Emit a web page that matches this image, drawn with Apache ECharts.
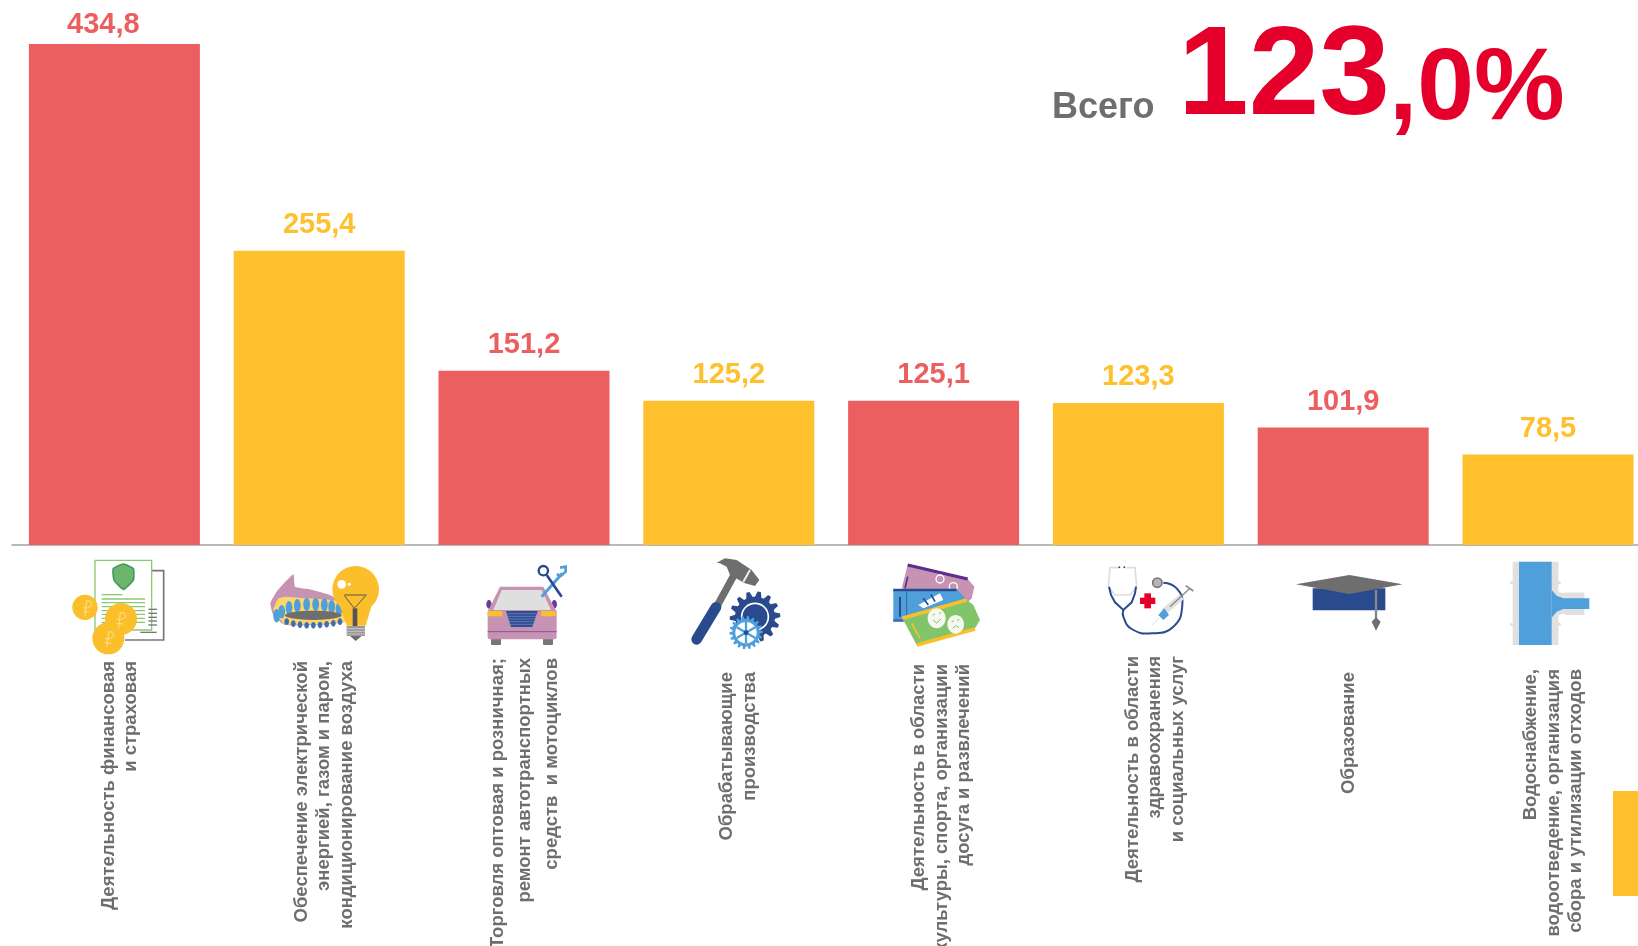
<!DOCTYPE html>
<html><head><meta charset="utf-8">
<style>html,body{margin:0;padding:0;background:#fff}#c{width:1638px;height:946px}</style>
<script src="https://cdn.jsdelivr.net/npm/echarts@6/dist/echarts.min.js"></script>
</head><body><div id="c"></div>
<script>
const categories = [
 'Деятельность финансовая\nи страховая',
 'Обеспечение электрической\nэнергией, газом и паром,\nкондиционирование воздуха',
 'Торговля оптовая и розничная;\nремонт автотранспортных\nсредств  и мотоциклов',
 'Обрабатывающие\nпроизводства',
 'Деятельность в области\nкультуры, спорта, организации\nдосуга и развлечений',
 'Деятельность в области\nздравоохранения\nи социальных услуг',
 'Образование',
 'Водоснабжение,\nводоотведение, организация\nсбора и утилизации отходов'
];
const values = [434.8, 255.4, 151.2, 125.2, 125.1, 123.3, 101.9, 78.5];
const CORAL = '#ec5f61', YELLOW = '#ffc02d';
const barColors = [CORAL, YELLOW, CORAL, YELLOW, CORAL, YELLOW, CORAL, YELLOW];
// label layout: where each rotated label starts below the axis, its sideways shift from the bar centre, its line spacing
const labelStart = [661, 661, 658, 672, 664, 656, 672, 669];
const labelShift = [4, 3, -3.5, 8, 6.5, 15, 4, 4];
const labelLeading = [22.5, 22.5, 27, 22.5, 22.5, 22.5, 22.5, 22.5];
const valueGap = [5, 11.5, 11.5, 11.5, 11.5, 11.5, 11.5, 11.5];
const valueNudge = [-11, 0, 0, 0, 0, 0, 0, 0];

const FONT = '"Liberation Sans", Arial, sans-serif';
const GREY = '#6e6e6e', RED = '#e4002b', NAVY = '#2a4a8e', SKY = '#4f9fdb', PINK = '#c793b2', GRN = '#82c46a', GOLD = '#fcbf2c', PURP = '#5a2d91';
const AXIS_Y = 545, LABEL_MARGIN = 100;

const rich = {};
categories.forEach((c, i) => {
  const base = {fontFamily: FONT, fontSize: 18.5, fontWeight: 'bold', color: GREY, align: 'right', verticalAlign: 'bottom',
    padding: [0, labelStart[i] - AXIS_Y - LABEL_MARGIN, 0, 0]};
  rich['a' + i] = Object.assign({}, base, {lineHeight: labelLeading[i] + 2 * labelShift[i]});
  rich['b' + i] = Object.assign({}, base, {lineHeight: labelLeading[i]});
});

// icon drawing helpers (decoration, in icon-local units)
const R = (x, y, w, h, fill, r) => ({type: 'rect', shape: {x, y, width: w, height: h, r: r || 0}, style: {fill}});
const RS = (x, y, w, h, fill, stroke, lw) => ({type: 'rect', shape: {x, y, width: w, height: h}, style: {fill, stroke, lineWidth: lw}});
const C = (cx, cy, r, fill, stroke, lw) => ({type: 'circle', shape: {cx, cy, r}, style: {fill: fill || 'none', stroke: stroke || 'none', lineWidth: lw || 0}});
const E = (cx, cy, rx, ry, fill) => ({type: 'ellipse', shape: {cx, cy, rx, ry}, style: {fill}});
const P = (points, fill, smooth, stroke, lw) => ({type: 'polygon', shape: {points, smooth: smooth || 0}, style: {fill, stroke: stroke || 'none', lineWidth: lw || 0}});
const L = (points, stroke, lw, smooth, cap) => ({type: 'polyline', shape: {points, smooth: smooth || 0}, style: {fill: 'none', stroke, lineWidth: lw, lineCap: cap || 'butt'}});
const gear = (cx, cy, ro, ri, n, fill) => {
  const pts = [];
  for (let i = 0; i < n; i++) {
    const s = i * 2 * Math.PI / n, d = 2 * Math.PI / n;
    [[ri, -0.5], [ro, -0.28], [ro, 0.02], [ri, 0.22]].forEach(([r, t]) => pts.push([cx + r * Math.cos(s + t * d), cy + r * Math.sin(s + t * d)]));
  }
  return P(pts, fill);
};
const ruble = (x, y, c) => [L([[x - 4, y + 26], [x + 1, y - 20], [x + 14, y - 18], [x + 16, y - 5], [x + 2, y + 2], [x - 10, y + 1]], c, 3), L([[x - 10, y + 13], [x + 10, y + 15]], c, 3)];

const icon = (x, y, children) => ({type: 'group', x, y, scaleX: 1 / 3, scaleY: 1 / 3, silent: true, children});

const icons = [
 icon(65, 550, [
  L([[260, 62], [296, 62], [296, 270], [180, 270]], '#777', 5),
  RS(90, 31, 170, 209, '#fff', '#8cc873', 4),
  P([[175, 42], [205, 56], [205, 90], [175, 118], [147, 90], [145, 56]], '#6db56a', 0.15, '#3f9a5c', 5),
  L([[110, 134], [172, 134]], '#8cc873', 4),
  ...[147, 158, 170, 182, 193, 205, 217].map(y => L([[110, y], [240, y]], '#8cc873', 4)),
  ...[178, 190, 202, 213, 225].map(y => L([[250, y], [276, y]], '#777', 4)),
  L([[226, 247], [275, 247]], '#777', 4),
  C(60, 172, 38, GOLD), C(130, 265, 48, GOLD), C(168, 207, 48, GOLD),
  ...ruble(64, 172, '#ffe08a'), ...ruble(165, 207, '#ffe08a'), ...ruble(130, 265, '#ffe08a')
 ]),
 icon(265, 555, [
  P([[85, 58], [90, 95], [130, 102], [205, 125], [240, 200], [60, 210], [25, 180], [16, 145], [35, 110]], PINK, 0.15),
  P([[40, 130], [60, 125], [130, 130], [230, 140], [240, 200], [60, 208], [25, 165]], '#fdd66a', 0.1),
  ...[[35, 182], [50, 170], [72, 158], [97, 152], [125, 148], [152, 148], [178, 150], [200, 155], [222, 162]].map(p => E(p[0], p[1], 10, 20, SKY)),
  ...[[65, 200], [85, 206], [105, 209], [125, 211], [145, 211], [165, 210], [185, 208], [205, 205], [225, 200]].map(p => E(p[0], p[1], 7, 10, '#3f6eb5')),
  E(145, 181, 85, 14, GREY),
  C(272, 103, 70, GOLD),
  P([[222, 145], [322, 145], [302, 212], [245, 212]], GOLD),
  C(230, 88, 13, '#fff'), C(253, 88, 5, '#fff'),
  L([[238, 120], [305, 120]], '#555', 3),
  L([[238, 122], [268, 160], [302, 122]], '#555', 3),
  R(263, 160, 14, 55, '#555'),
  R(245, 213, 55, 30, '#9a9a9a'),
  L([[245, 221], [300, 221]], '#ddd', 2), L([[245, 229], [300, 229]], '#ddd', 2), L([[245, 237], [300, 237]], '#ddd', 2),
  P([[255, 243], [290, 243], [272, 258]], GREY)
 ]),
 icon(475, 555, [
  E(42, 148, 8, 13, '#6a3a9a'), E(238, 148, 8, 13, '#6a3a9a'),
  R(48, 250, 30, 20, '#777', 3), R(204, 250, 30, 20, '#777', 3),
  P([[75, 95], [205, 95], [245, 170], [38, 170]], PINK),
  R(38, 165, 207, 88, PINK, 6),
  P([[80, 105], [200, 105], [228, 165], [55, 165]], '#dfdfdf'),
  R(38, 168, 44, 16, GOLD, 3), R(198, 168, 44, 16, GOLD, 3),
  P([[93, 168], [188, 168], [172, 216], [108, 216]], '#2f4d92'),
  ...[176, 184, 192, 200, 208].map(y => L([[98, y], [183, y]], '#8fa5cf', 1.5)),
  L([[38, 230], [245, 230]], '#8e4f9c', 3),
  L([[200, 125], [262, 55]], SKY, 9),
  L([[255, 38], [272, 35], [272, 50], [258, 62], [245, 58]], SKY, 8),
  C(205, 47, 14, 'none', NAVY, 7),
  L([[215, 60], [260, 125]], NAVY, 8)
 ]),
 icon(680, 550, [
  L([[165, 70], [110, 170]], GREY, 22),
  P([[110, 38], [135, 25], [170, 30], [215, 60], [238, 90], [225, 108], [195, 100], [150, 75], [140, 50], [120, 40]], GREY),
  L([[210, 60], [190, 95]], '#eee', 6),
  L([[108, 172], [50, 268]], NAVY, 32, 0, 'round'),
  gear(225, 200, 76, 60, 14, NAVY),
  C(225, 200, 40, 'none', '#fff', 5),
  gear(198, 248, 50, 41, 18, SKY),
  C(198, 248, 32, '#fff'),
  L([[170, 232], [226, 264]], SKY, 7), L([[170, 264], [226, 232]], SKY, 7), L([[198, 216], [198, 280]], SKY, 7),
  C(198, 248, 7, NAVY)
 ]),
 icon(885, 555, [
  P([[68, 30], [248, 72], [268, 95], [260, 130], [240, 150], [50, 100]], PINK),
  L([[68, 30], [248, 72]], PURP, 10),
  L([[68, 65], [60, 100]], PURP, 5),
  C(165, 72, 12, 'none', '#fff', 4), C(205, 95, 12, 'none', '#fff', 4),
  P([[25, 102], [215, 102], [240, 130], [240, 150], [50, 200], [25, 200]], SKY),
  L([[25, 105], [215, 105]], NAVY, 8), L([[25, 196], [60, 196]], '#4a6cb0', 8),
  L([[45, 125], [45, 185]], NAVY, 6), L([[65, 110], [65, 195]], NAVY, 2),
  P([[100, 150], [165, 115], [175, 135], [115, 160]], '#fff'),
  L([[115, 130], [130, 150]], NAVY, 5), L([[138, 118], [150, 140]], NAVY, 5),
  P([[52, 190], [245, 135], [265, 150], [285, 195], [270, 220], [95, 270]], GRN),
  L([[52, 190], [245, 135]], GOLD, 11), L([[95, 270], [270, 222]], GOLD, 11),
  L([[80, 205], [105, 250]], GOLD, 5),
  E(155, 190, 27, 30, '#f4f8ee'), E(212, 208, 25, 28, '#f4f8ee'),
  L([[143, 180], [150, 178]], GRN, 3), L([[162, 175], [169, 173]], GRN, 3),
  L([[145, 196], [155, 204], [168, 192]], GRN, 3),
  L([[200, 200], [207, 198]], GRN, 3), L([[216, 196], [223, 194]], GRN, 3),
  L([[203, 220], [212, 212], [222, 217]], GRN, 3)
 ]),
 icon(1095, 555, [
  L([[70, 38], [45, 38], [40, 95], [60, 120], [105, 120], [125, 95], [120, 38], [95, 38]], '#ddd', 5),
  C(73, 37, 3, NAVY), C(88, 37, 3, NAVY),
  L([[42, 95], [48, 120], [60, 142], [85, 165], [110, 142], [120, 115], [123, 95]], NAVY, 6),
  L([[85, 165], [85, 185], [110, 222], [170, 235], [235, 215], [262, 150], [245, 100], [205, 83]], NAVY, 6, 0.5),
  C(187, 83, 14, '#b5b5b5', '#777', 5),
  R(148, 115, 20, 45, RED), R(135, 128, 46, 19, RED),
  L([[170, 212], [192, 190]], '#ccc', 2),
  L([[205, 172], [260, 125]], '#e2e2e2', 20),
  P([[190, 180], [208, 160], [222, 180], [205, 195]], SKY),
  L([[225, 155], [285, 100]], '#8a8a8a', 4), L([[272, 92], [295, 108]], '#8a8a8a', 5)
 ]),
 icon(1290, 560, [
  R(68, 85, 218, 66, NAVY),
  P([[18, 73], [178, 45], [338, 73], [178, 102]], GREY),
  L([[258, 90], [258, 175]], '#888', 7),
  P([[258, 172], [272, 185], [258, 212], [245, 185]], GREY)
 ]),
 icon(1500, 555, [
  R(38, 20, 138, 250, '#e0e0e0'),
  R(175, 112, 70, 68, '#e0e0e0'), R(243, 112, 10, 68, '#e0e0e0'),
  R(176, 20, 100, 92, '#fff', 0),
  C(190, 100, 14, '#fff'), C(190, 190, 14, '#fff'),
  R(176, 180, 100, 92, '#fff', 0),
  R(57, 20, 98, 250, SKY),
  P([[155, 105], [170, 122], [190, 130], [268, 130], [268, 162], [190, 162], [170, 170], [155, 188]], SKY),
  C(35, 83, 5, '#e0e0e0'), C(35, 208, 5, '#e0e0e0'), C(178, 83, 5, '#e0e0e0'), C(178, 208, 5, '#e0e0e0')
 ])
];

const T = (x, y, text, size, color) => ({type: 'text', x, y, silent: true,
  style: {text, fontFamily: FONT, fontSize: size, fontWeight: 'bold', fill: color, textAlign: 'left', textVerticalAlign: 'bottom'}});

const chart = echarts.init(document.getElementById('c'), null, {renderer: 'canvas', width: 1638, height: 946});
chart.setOption({
  animation: false,
  backgroundColor: '#fff',
  grid: {left: 12, width: 1638.4, top: 3.5, height: 541.5, outerBoundsMode: 'none', containLabel: false},
  xAxis: {
    type: 'category', data: categories,
    axisLine: {show: true, lineStyle: {color: '#a3a3a3', width: 1.5}},
    axisTick: {show: false},
    axisLabel: {
      interval: 0, rotate: 90, margin: LABEL_MARGIN, hideOverlap: false,
      formatter: (v, i) => v.split('\n').map((s, k) => '{' + (k === 0 ? 'a' : 'b') + i + '|' + s + '}').join('\n'),
      rich
    }
  },
  yAxis: {type: 'value', min: 0, max: 470, show: false, splitLine: {show: false}},
  series: [{
    type: 'bar', barWidth: 171,
    data: values.map((v, i) => ({value: v, itemStyle: {color: barColors[i]},
      label: {color: barColors[i], distance: valueGap[i], offset: [valueNudge[i], 0]}})),
    label: {show: true, position: 'top', fontFamily: FONT, fontSize: 29, fontWeight: 'bold',
      formatter: p => p.value.toFixed(1).replace('.', ',')}
  }],
  graphic: {elements: [
    ...icons,
    T(1052, 126, 'Всего', 36, GREY),
    T(1178, 142, '123', 127, RED),
    T(1389, 142, ',0%', 102, RED),
    {type: 'rect', silent: true, shape: {x: 1613, y: 791, width: 25, height: 105}, style: {fill: YELLOW}}
  ]}
});
</script></body></html>
